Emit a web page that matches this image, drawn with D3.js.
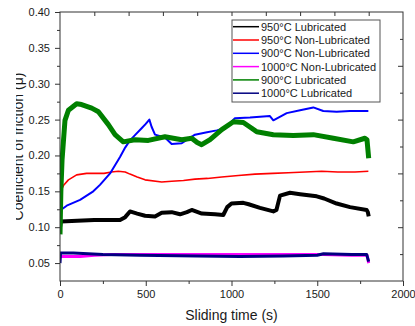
<!DOCTYPE html>
<html>
<head>
<meta charset="utf-8">
<script src="https://cdn.jsdelivr.net/npm/d3@7"></script>
<style>
  body { margin: 0; background: #fff; }
  text { font-family: "Liberation Sans", Arial, sans-serif; fill: #1a1a1a; }
</style>
</head>
<body>
<script>
// sliding time (s) , coefficient of friction
const lub950 = [[0,0.100],[5,0.108],[100,0.109],[200,0.110],[350,0.110],[380,0.114],[408,0.122],[450,0.119],[496,0.116],[554,0.115],[593,0.120],[651,0.121],[700,0.118],[740,0.121],[768,0.124],[827,0.119],[904,0.118],[952,0.117],[975,0.128],[1000,0.133],[1069,0.134],[1100,0.132],[1166,0.127],[1244,0.122],[1262,0.124],[1283,0.144],[1341,0.148],[1400,0.146],[1497,0.143],[1540,0.140],[1613,0.133],[1691,0.128],[1788,0.124],[1795,0.121],[1800,0.115]];
const nonlub950 = [[0,0.148],[20,0.158],[49,0.166],[97,0.173],[155,0.175],[257,0.175],[300,0.177],[340,0.178],[380,0.177],[408,0.174],[450,0.170],[496,0.166],[593,0.163],[651,0.164],[720,0.165],[787,0.167],[860,0.168],[943,0.170],[1040,0.172],[1137,0.174],[1240,0.175],[1331,0.176],[1430,0.177],[1526,0.178],[1620,0.177],[1720,0.177],[1798,0.178]];
const nonlub900 = [[0,0.117],[5,0.124],[39,0.130],[117,0.138],[194,0.150],[233,0.159],[292,0.175],[320,0.186],[350,0.198],[380,0.211],[408,0.221],[440,0.229],[476,0.238],[500,0.244],[521,0.250],[534,0.240],[554,0.229],[612,0.225],[651,0.216],[710,0.217],[787,0.229],[850,0.232],[914,0.235],[960,0.238],[1020,0.252],[1108,0.253],[1224,0.255],[1244,0.249],[1322,0.259],[1400,0.263],[1477,0.267],[1535,0.262],[1613,0.261],[1691,0.262],[1798,0.262]];
const nonlub1000 = [[0,0.059],[60,0.059],[117,0.059],[200,0.061],[300,0.062],[600,0.062],[900,0.062],[1200,0.062],[1536,0.062],[1700,0.061],[1790,0.061],[1800,0.050]];
const lub900 = [[0,0.090],[5,0.150],[12,0.194],[29,0.249],[49,0.263],[97,0.272],[126,0.271],[185,0.266],[224,0.261],[282,0.243],[321,0.229],[369,0.219],[437,0.222],[515,0.221],[612,0.226],[710,0.222],[768,0.224],[800,0.218],[826,0.215],[875,0.222],[943,0.236],[1011,0.247],[1069,0.246],[1118,0.238],[1147,0.233],[1244,0.229],[1360,0.228],[1477,0.229],[1594,0.224],[1710,0.219],[1778,0.224],[1790,0.222],[1800,0.196]];
const lub1000 = [[0,0.050],[3,0.064],[78,0.064],[250,0.062],[466,0.061],[800,0.060],[1050,0.059],[1300,0.060],[1500,0.061],[1536,0.063],[1700,0.062],[1788,0.062],[1800,0.052]];

const seriesNames = ["950°C Lubricated", "950°C Non-Lubricated", "900°C Non-Lubricated",
  "1000°C Non-Lubricated", "900°C Lubricated", "1000°C Lubricated"];
const seriesData = [lub950, nonlub950, nonlub900, nonlub1000, lub900, lub1000];
const seriesColors = ["#000000", "#ff0000", "#0000ff", "#ff00ff", "#008000", "#000080"];
const seriesWidths = [4, 1.6, 2, 3, 5, 3];

const xTicks = [0, 500, 1000, 1500, 2000];
const xMinor = [250, 750, 1250, 1750];
const xTopTicks = [200, 400, 600, 800, 1000, 1200, 1400, 1600, 1800];
const yTicks = [0.05, 0.10, 0.15, 0.20, 0.25, 0.30, 0.35, 0.40];
const yMinor = [0.075, 0.125, 0.175, 0.225, 0.275, 0.325, 0.375];
const yRightMajor = [0.1, 0.175, 0.25, 0.325];
const yRightMinor = [0.0625, 0.1375, 0.2125, 0.2875, 0.3625];

const dims = { w: 415, h: 326, l: 60, r: 403, t: 12, b: 281 };

const svg = d3.select("body").append("svg")
  .attr("width", dims.w)
  .attr("height", dims.h);

const x = d3.scaleLinear().domain([0, 2000]).range([dims.l, dims.r]);
const y = d3.scaleLinear().domain([0.025, 0.40]).range([dims.b, dims.t]);

svg.append("clipPath").attr("id", "plot")
  .append("rect")
  .attr("x", dims.l).attr("y", dims.t)
  .attr("width", dims.r - dims.l).attr("height", dims.b - dims.t);

const line = d3.line().x(d => x(d[0])).y(d => y(d[1]));

svg.append("g")
  .attr("clip-path", "url(#plot)")
  .selectAll("path")
  .data(seriesData)
  .enter()
  .append("path")
  .attr("d", d => line(d))
  .attr("fill", "none")
  .attr("stroke", (d, i) => seriesColors[i])
  .attr("stroke-width", (d, i) => seriesWidths[i])
  .attr("stroke-linejoin", "round");

// axes
const styleAxis = g => {
  g.select(".domain").remove();
  g.selectAll("line").attr("stroke", "#333");
  g.selectAll("text").attr("font-size", 11).attr("fill", "#1a1a1a")
    .attr("font-family", "Liberation Sans, Arial, sans-serif");
};

svg.append("g")
  .attr("transform", `translate(${dims.l},0)`)
  .call(d3.axisLeft(y).tickValues(yTicks).tickFormat(d3.format(".2f")).tickSize(5).tickPadding(5))
  .call(styleAxis);
svg.append("g")
  .attr("transform", `translate(${dims.l},0)`)
  .call(d3.axisLeft(y).tickValues(yMinor).tickFormat("").tickSize(3))
  .call(styleAxis);

svg.append("g")
  .attr("transform", `translate(0,${dims.b})`)
  .call(d3.axisBottom(x).tickValues(xTicks).tickFormat(d3.format("d")).tickSize(5).tickPadding(4))
  .call(styleAxis);
svg.append("g")
  .attr("transform", `translate(0,${dims.b})`)
  .call(d3.axisBottom(x).tickValues(xMinor).tickFormat("").tickSize(3))
  .call(styleAxis);

svg.append("g")
  .attr("transform", `translate(0,${dims.t})`)
  .call(d3.axisTop(x).tickValues(xTopTicks).tickFormat("").tickSize(-4))
  .call(styleAxis);

svg.append("g")
  .attr("transform", `translate(${dims.r},0)`)
  .call(d3.axisRight(y).tickValues(yRightMajor).tickFormat("").tickSize(-5))
  .call(styleAxis);
svg.append("g")
  .attr("transform", `translate(${dims.r},0)`)
  .call(d3.axisRight(y).tickValues(yRightMinor).tickFormat("").tickSize(-3))
  .call(styleAxis);

svg.append("rect")
  .attr("x", dims.l).attr("y", dims.t)
  .attr("width", dims.r - dims.l).attr("height", dims.b - dims.t)
  .attr("fill", "none").attr("stroke", "#333").attr("stroke-width", 1);

// titles
svg.append("text")
  .attr("x", (dims.l + dims.r) / 2)
  .attr("y", 320)
  .attr("text-anchor", "middle")
  .attr("font-size", 14)
  .text("Sliding time (s)");

// the y title is cut at its left side in the original
svg.append("clipPath").attr("id", "ytitle")
  .append("rect").attr("x", 16).attr("y", 0).attr("width", 30).attr("height", dims.h);
svg.append("g")
  .attr("clip-path", "url(#ytitle)")
  .append("text")
  .attr("transform", `translate(23,${(dims.t + dims.b) / 2}) rotate(-90)`)
  .attr("text-anchor", "middle")
  .attr("font-size", 14)
  .text("Coefficient of friction (μ)");

// legend
const legend = svg.append("g").attr("transform", "translate(232,20)");
legend.append("rect")
  .attr("width", 148).attr("height", 82)
  .attr("fill", "#fff").attr("stroke", "#555").attr("stroke-width", 1);

const rows = legend.selectAll("g.row")
  .data(seriesNames)
  .enter()
  .append("g")
  .attr("class", "row")
  .attr("transform", (d, i) => `translate(0,${6.7 + i * 13.3})`);
rows.append("line")
  .attr("x1", 1).attr("x2", 27)
  .attr("stroke", (d, i) => seriesColors[i])
  .attr("stroke-width", 1.5);
rows.append("text")
  .attr("x", 29)
  .attr("dy", "0.36em")
  .attr("font-size", 11)
  .text(d => d);
</script>
</body>
</html>
